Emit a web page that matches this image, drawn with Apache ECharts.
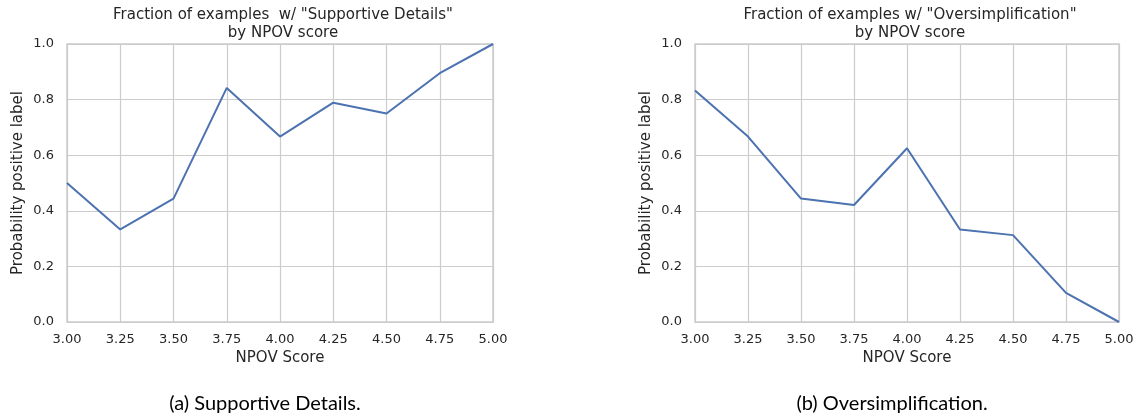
<!DOCTYPE html>
<html>
<head>
<meta charset="utf-8">
<script src="https://cdn.jsdelivr.net/npm/echarts@6/dist/echarts.min.js"></script>
<style>
  html, body { margin: 0; padding: 0; background: #fff; }
  #chart { width: 1147px; height: 418px; }
</style>
</head>
<body>
<div id="chart"></div>
<script>
// NPOV score buckets (x values)
const npovScores = [3.00, 3.25, 3.50, 3.75, 4.00, 4.25, 4.50, 4.75, 5.00];
// fraction of examples with each label
const supportiveDetails = [0.5, 0.333, 0.444, 0.842, 0.667, 0.789, 0.75, 0.895, 1.0];
const oversimplification = [0.833, 0.667, 0.444, 0.421, 0.625, 0.333, 0.3125, 0.105, 0.0];

const chartTitles = [
    'Fraction of examples  w/ "Supportive Details"\nby NPOV score',
    'Fraction of examples w/ "Oversimplification"\nby NPOV score'
];
const captions = ['(a) Supportive Details.', '(b) Oversimplification.'];

const TEXT_COLOR = '#262626';
const GRID_COLOR = '#cccccc';
const LINE_COLOR = '#4c72b0';
const FONT = 'DejaVu Sans';

const grids = [
    { left: 67, right: 654, top: 44, bottom: 96 },
    { left: 695, right: 28, top: 44, bottom: 96 }
];

function makeXAxis(idx) {
    return {
        type: 'value',
        gridIndex: idx,
        min: 3,
        max: 5,
        interval: 0.25,
        name: 'NPOV Score',
        nameLocation: 'middle',
        nameGap: 28,
        nameTextStyle: { color: TEXT_COLOR, fontFamily: FONT, fontSize: 15 },
        axisLine: { show: false },
        axisTick: { show: false },
        axisLabel: {
            color: TEXT_COLOR,
            fontFamily: FONT,
            fontSize: 13,
            margin: 11,
            formatter: v => v.toFixed(2)
        },
        splitLine: { show: true, lineStyle: { color: GRID_COLOR, width: 1.2 } }
    };
}

function makeYAxis(idx) {
    return {
        type: 'value',
        gridIndex: idx,
        min: 0,
        max: 1,
        interval: 0.2,
        name: 'Probability positive label',
        nameLocation: 'middle',
        nameGap: 41,
        nameTextStyle: { color: TEXT_COLOR, fontFamily: FONT, fontSize: 15 },
        axisLine: { show: false },
        axisTick: { show: false },
        axisLabel: {
            color: TEXT_COLOR,
            fontFamily: FONT,
            fontSize: 13,
            margin: 13,
            formatter: v => v.toFixed(1)
        },
        splitLine: { show: true, lineStyle: { color: GRID_COLOR, width: 1.2 } }
    };
}

function toPairs(values) {
    return npovScores.map((x, i) => [x, values[i]]);
}

const chart = echarts.init(document.getElementById('chart'));

const titleStyle = { color: TEXT_COLOR, fontFamily: FONT, fontSize: 15, fontWeight: 'normal', lineHeight: 18 };
const captionStyle = { color: '#000', fontFamily: 'Lato', fontSize: 20, fontWeight: 'normal' };

const option = {
    animation: false,
    backgroundColor: '#fff',
    title: [
        { text: chartTitles[0], left: 278, top: 1, textAlign: 'center', textStyle: titleStyle },
        { text: chartTitles[1], left: 905, top: 1, textAlign: 'center', textStyle: titleStyle },
        { text: captions[0], left: 260, top: 389, textAlign: 'center', textStyle: captionStyle },
        { text: captions[1], left: 887, top: 389, textAlign: 'center', textStyle: captionStyle }
    ],
    grid: grids.map(g => Object.assign({
        show: true,
        borderColor: GRID_COLOR,
        borderWidth: 1.5,
        backgroundColor: 'transparent',
        containLabel: false
    }, g)),
    xAxis: [makeXAxis(0), makeXAxis(1)],
    yAxis: [makeYAxis(0), makeYAxis(1)],
    series: [
        {
            type: 'line',
            xAxisIndex: 0,
            yAxisIndex: 0,
            data: toPairs(supportiveDetails),
            showSymbol: false,
            lineStyle: { color: LINE_COLOR, width: 2 },
            z: 5
        },
        {
            type: 'line',
            xAxisIndex: 1,
            yAxisIndex: 1,
            data: toPairs(oversimplification),
            showSymbol: false,
            lineStyle: { color: LINE_COLOR, width: 2 },
            z: 5
        }
    ]
};

chart.setOption(option);

window.addEventListener('resize', () => {
    chart.resize();
});
</script>
</body>
</html>
